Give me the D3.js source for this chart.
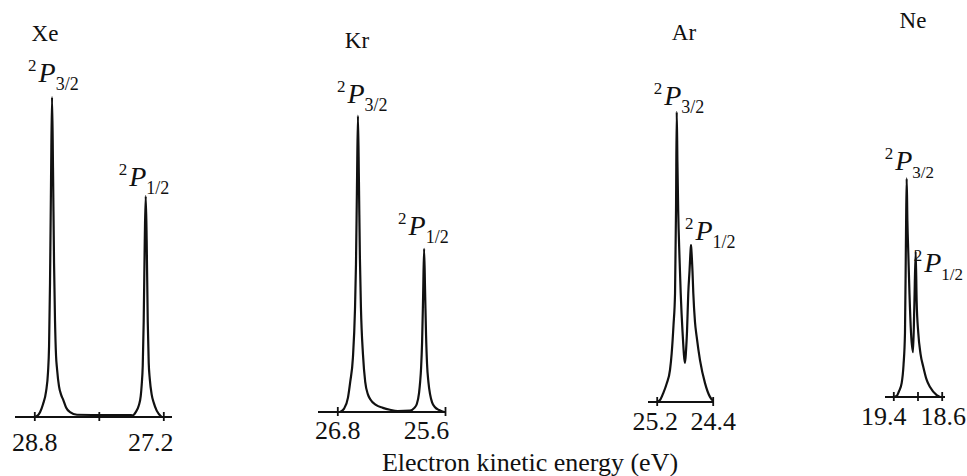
<!DOCTYPE html>
<html>
<head>
<meta charset="utf-8">
<script src="https://cdn.jsdelivr.net/npm/d3@7"></script>
<style>
  html, body { margin: 0; padding: 0; background: #fff; }
  svg text, svg tspan { font-family: 'Liberation Serif' !important; }
</style>
</head>
<body>
<svg id="chart" width="967" height="476" font-family="Liberation Serif"></svg>
<script>
// Photoelectron spectra of the rare gases: kinetic energy (eV) vs. relative intensity.

// Xe
const xeTicks = [28.8, 28.0, 27.2];
const xeTickLabels = ["28.8", "", "27.2"];
const xeSpectrum = [
  [28.803, 0], [28.766, 0.3], [28.729, 1.5], [28.692, 4], [28.654, 8], [28.630, 14],
  [28.617, 22], [28.605, 42], [28.592, 75], [28.580, 100], [28.568, 78], [28.555, 48],
  [28.543, 30], [28.530, 19], [28.518, 15], [28.493, 9.5], [28.468, 7], [28.440, 5.3],
  [28.406, 3], [28.357, 1.5], [28.270, 0.7], [27.900, 0.6], [27.600, 0.6], [27.579, 0.5],
  [27.542, 1.5], [27.505, 3.5], [27.480, 6.5], [27.468, 10], [27.455, 16], [27.443, 30],
  [27.430, 55], [27.418, 69], [27.406, 55], [27.393, 30], [27.381, 17], [27.368, 12],
  [27.344, 7], [27.319, 4.5], [27.282, 2], [27.220, 0]
];
const xePeaks = [
  { term: "3/2", e: 28.580, i: 100 },
  { term: "1/2", e: 27.418, i: 69 }
];

// Kr
const krTicks = [26.8, 25.6];
const krTickLabels = ["26.8", "25.6"];
const krSpectrum = [
  [26.770, 0], [26.726, 1], [26.681, 4.5], [26.656, 9.4], [26.626, 17], [26.603, 32],
  [26.592, 46], [26.581, 70], [26.570, 92.6], [26.559, 72], [26.548, 48], [26.537, 33],
  [26.514, 18], [26.489, 9.4], [26.459, 5.5], [26.433, 4], [26.370, 2.2], [26.292, 1.3],
  [26.214, 0.7], [26.126, 0.3], [25.989, 0.4], [25.944, 1.2], [25.914, 2.5], [25.889, 6],
  [25.877, 9.4], [25.866, 14], [25.855, 22], [25.844, 36], [25.833, 51], [25.822, 38],
  [25.811, 24], [25.800, 15], [25.785, 9.4], [25.766, 5.5], [25.744, 3], [25.711, 1.5],
  [25.666, 0.6], [25.611, 0]
];
const krPeaks = [
  { term: "3/2", e: 26.570, i: 92.6 },
  { term: "1/2", e: 25.833, i: 51 }
];

// Ar
const arTicks = [25.2, 24.4];
const arTickLabels = ["25.2", "24.4"];
const arSpectrum = [
  [25.200, 0], [25.153, 0.6], [25.106, 2.8], [25.057, 5.8], [25.010, 10], [24.986, 15.2],
  [24.960, 24], [24.938, 34], [24.924, 60], [24.914, 90.7], [24.904, 75], [24.893, 60],
  [24.874, 45], [24.857, 34], [24.831, 22], [24.795, 12.2], [24.781, 16], [24.767, 22],
  [24.749, 34], [24.731, 41], [24.717, 47], [24.710, 49], [24.703, 47], [24.689, 41],
  [24.677, 34], [24.653, 25], [24.629, 20.4], [24.581, 13], [24.510, 5.9], [24.439, 1.6],
  [24.391, 0.3]
];
const arPeaks = [
  { term: "3/2", e: 24.914, i: 90.7 },
  { term: "1/2", e: 24.710, i: 49 }
];

// Ne
const neTicks = [19.4, 19.0, 18.6];
const neTickLabels = ["19.4", "", "18.6"];
const neSpectrum = [
  [19.400, 0], [19.344, 0.3], [19.306, 1.8], [19.261, 4.4], [19.231, 10], [19.207, 20],
  [19.190, 51], [19.179, 68.3], [19.167, 55], [19.152, 45], [19.132, 32], [19.107, 20],
  [19.074, 14], [19.053, 28], [19.030, 45.4], [19.014, 30], [18.987, 20], [18.950, 13.5],
  [18.904, 9.4], [18.851, 5.5], [18.793, 3.1], [18.683, 0.6], [18.628, 0]
];
const nePeaks = [
  { term: "3/2", e: 19.179, i: 68.3 },
  { term: "1/2", e: 19.030, i: 45.4 }
];

const axisTitle = "Electron kinetic energy (eV)";

// Page layout of each panel (pixels)
const panels = [
  { name: "Xe", ticks: xeTicks, tickLabels: xeTickLabels, spectrum: xeSpectrum, peaks: xePeaks,
    tickPx: [34.3, 163.3], axisPx: [15, 172], base: 417, title: [45, 41],
    labelDy: 34, labelDx: [0, 0, -13], peakLabel: [[-24, 15], [-27, 10]], subSize: 18 },
  { name: "Kr", ticks: krTicks, tickLabels: krTickLabels, spectrum: krSpectrum, peaks: krPeaks,
    tickPx: [337.3, 445], axisPx: [318, 446], base: 412, title: [357, 48],
    labelDy: 27, labelDx: [0, -19], peakLabel: [[-21, 13], [-26, 14]], subSize: 18 },
  { name: "Ar", ticks: arTicks, tickLabels: arTickLabels, spectrum: arSpectrum, peaks: arPeaks,
    tickPx: [656.7, 712.7], axisPx: [648, 714], base: 402, title: [684, 40],
    labelDy: 28, labelDx: [-2, 0], peakLabel: [[-23, 7], [-6, 5]], subSize: 18 },
  { name: "Ne", ticks: neTicks, tickLabels: neTickLabels, spectrum: neSpectrum, peaks: nePeaks,
    tickPx: [893.3, 941.7], axisPx: [885, 945], base: 397, title: [913, 28],
    labelDy: 28, labelDx: [-10, 0, 1], peakLabel: [[-22, 8], [-2, -20]], subSize: 17 }
];

const svg = d3.select("#chart");
const y = d3.scaleLinear().domain([0, 100]).range([0, -320]);

panels.forEach(p => {
  const x = d3.scaleLinear()
    .domain([p.ticks[0], p.ticks[p.ticks.length - 1]])
    .range(p.tickPx);

  const g = svg.append("g").attr("transform", `translate(0,${p.base})`);

  // baseline of the energy axis
  g.append("line")
    .attr("x1", p.axisPx[0]).attr("x2", p.axisPx[1])
    .attr("y1", 0).attr("y2", 0)
    .attr("stroke", "#111").attr("stroke-width", 2);

  const axis = d3.axisBottom(x)
    .tickValues(p.ticks)
    .tickSizeOuter(0)
    .tickSize(5)
    .tickFormat((d, i) => p.tickLabels[i]);

  const ag = g.append("g").call(axis).attr("font-family", "Liberation Serif");
  ag.select(".domain").remove();
  ag.selectAll(".tick line")
    .attr("y1", -5).attr("y2", 4)
    .attr("stroke", "#111").attr("stroke-width", 1.8);
  ag.selectAll(".tick text")
    .attr("font-size", 26)
    .attr("fill", "#111")
    .attr("dy", 0)
    .attr("y", p.labelDy)
    .attr("dx", (d, i) => p.labelDx[i]);

  // spectrum trace
  const line = d3.line()
    .x(d => x(d[0]))
    .y(d => y(d[1]))
    .curve(d3.curveMonotoneX);

  g.append("path")
    .datum(p.spectrum)
    .attr("d", line)
    .attr("fill", "none")
    .attr("stroke", "#111")
    .attr("stroke-width", 2.2)
    .attr("stroke-linejoin", "round");

  // peak term labels
  p.peaks.forEach((pk, k) => {
    const [dx, dy] = p.peakLabel[k];
    const t = g.append("text")
      .attr("fill", "#111")
      .attr("x", x(pk.e) + dx)
      .attr("y", y(pk.i) - dy);
    t.append("tspan").attr("font-size", 17).attr("dy", -11).text("2");
    t.append("tspan").attr("font-size", 28).attr("font-style", "italic")
      .attr("dx", 2).attr("dy", 11).text("P");
    t.append("tspan").attr("font-size", p.subSize).attr("dy", 8).text(pk.term);
  });

  // element name
  svg.append("text")
    .attr("fill", "#111")
    .attr("x", p.title[0]).attr("y", p.title[1])
    .attr("text-anchor", "middle")
    .attr("font-size", 23)
    .text(p.name);
});

svg.append("text")
  .attr("fill", "#111")
  .attr("x", 530).attr("y", 471)
  .attr("text-anchor", "middle")
  .attr("font-size", 26)
  .text(axisTitle);
</script>
</body>
</html>
